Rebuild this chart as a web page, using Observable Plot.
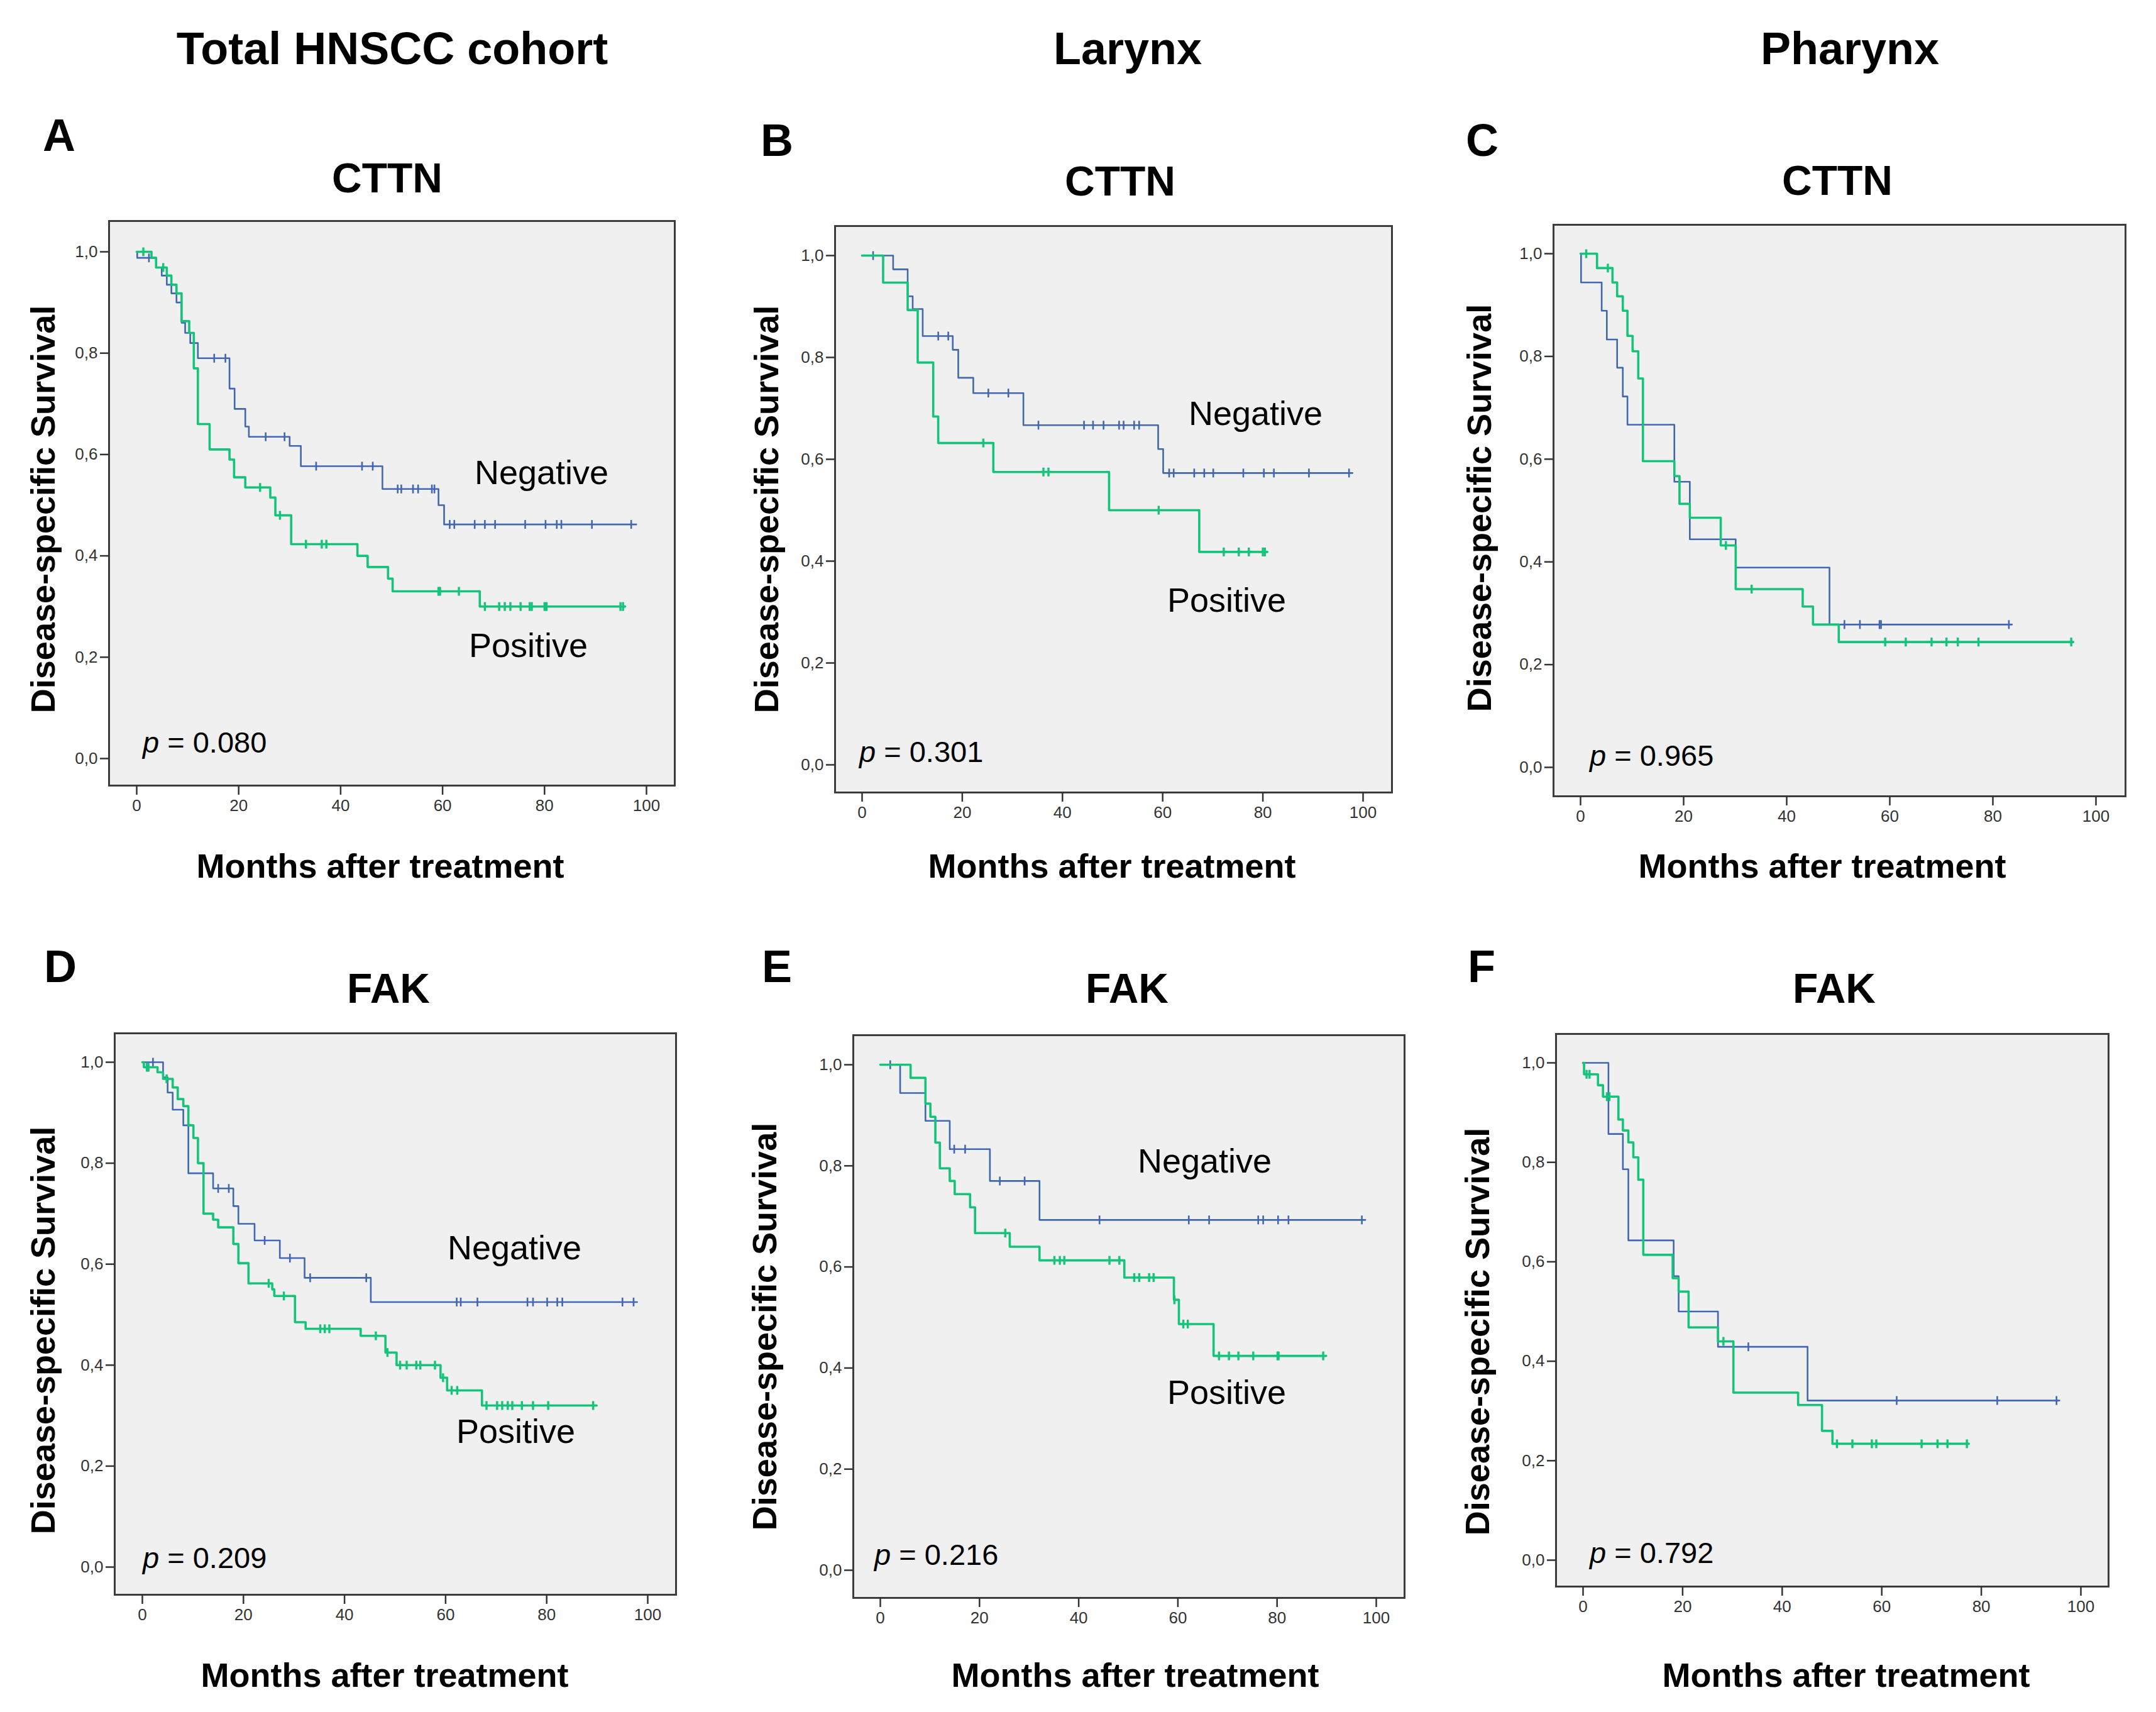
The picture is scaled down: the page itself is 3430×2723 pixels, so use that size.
<!DOCTYPE html>
<html>
<head>
<meta charset="utf-8">
<script src="https://cdn.jsdelivr.net/npm/d3@7"></script>
<script src="https://cdn.jsdelivr.net/npm/@observablehq/plot@0.6"></script>
<style>
  html, body { margin: 0; padding: 0; background: #ffffff; }
  #page { position: relative; width: 3430px; height: 2723px; background: #ffffff; overflow: hidden;
          font-family: "Liberation Sans", Arial, Helvetica, sans-serif; }
  .panel { position: absolute; }
  #overlay { position: absolute; left: 0; top: 0; pointer-events: none; }
</style>
</head>
<body>
<div id="page"></div>
<script>
// ---------------- DATA (Kaplan–Meier steps: [months, survival]) ----------------
const stepsA_neg = [[0,1],[0.1,0.988],[3.8,0.969],[4.9,0.953],[5.9,0.935],[6.8,0.918],[7.8,0.90],[8.8,0.86],[9.5,0.84],[10.5,0.82],[12,0.79],[18.2,0.73],[19.2,0.69],[21.3,0.655],[22,0.635],[30,0.617],[32.2,0.577],[48.2,0.532],[59.2,0.50],[60.3,0.462],[98,0.462]];
const censA_neg = [2.4,15.2,17.4,25.3,29,35.2,44.2,46.3,51.2,51.9,54.2,55.2,57.9,58.4,61.4,62.3,66.3,68.3,70.3,76.2,80.2,82.4,83.3,89.3,97.0];
const stepsA_pos = [[0,1],[2.9,0.988],[3.8,0.969],[5.9,0.953],[6.8,0.935],[7.8,0.918],[8.8,0.863],[10.3,0.84],[11.2,0.77],[12,0.66],[14.3,0.61],[18.2,0.59],[19.1,0.555],[21.3,0.535],[26.2,0.515],[27.2,0.48],[30.3,0.423],[43.3,0.40],[45.3,0.378],[49.3,0.355],[50.2,0.33],[67.3,0.30],[95.8,0.30]];
const censA_pos = [1.3,5.2,24.2,28.1,33.2,36.3,37.2,59.2,59.5,63.2,68.3,71.1,72.2,73.3,75.3,77.1,77.5,80,80.4,94.9,95.4];

const stepsB_neg = [[0,1],[6.2,0.973],[9.1,0.92],[10.1,0.895],[12.1,0.842],[18.1,0.815],[19.2,0.76],[22.2,0.73],[32.2,0.667],[59.1,0.62],[60.1,0.573],[97.9,0.573]];
const censB_neg = [2.2,15.2,17.2,25.2,29.2,35.2,44.3,46.1,48.2,51.3,52.2,54.3,55.3,61.3,62.2,66.3,68.3,70.1,76.1,80.2,82.2,89.2,97.2];
const stepsB_pos = [[0,1],[4.2,0.947],[9.1,0.893],[11.1,0.79],[14.2,0.684],[15.2,0.632],[26.2,0.575],[49.3,0.50],[67.3,0.418],[80.9,0.418]];
const censB_pos = [24.2,36.2,37.2,59.2,72.2,75.2,77.2,80,80.4];

const stepsC_neg = [[0,1],[0.1,0.944],[4.1,0.889],[5.1,0.833],[7.1,0.778],[8.2,0.722],[9.1,0.667],[18.2,0.556],[21.2,0.444],[30.1,0.389],[48.3,0.278],[83.7,0.278]];
const censC_neg = [51.2,54.2,58,58.3,83.1];
const stepsC_pos = [[0,1],[3.2,0.972],[6.2,0.944],[7.1,0.917],[8.2,0.889],[9.1,0.84],[10.1,0.81],[11.2,0.757],[12.1,0.596],[18.2,0.567],[19.2,0.513],[21.2,0.486],[27.2,0.432],[30.1,0.347],[43.1,0.313],[45.1,0.278],[50.1,0.244],[95.6,0.244]];
const censC_pos = [1.1,5.3,28.2,33.2,59.1,63.1,68.1,71,73.2,77.2,95.2];

const stepsD_neg = [[0,1],[4.1,0.97],[5,0.94],[6,0.906],[8.1,0.875],[9.1,0.78],[14,0.75],[18,0.715],[19,0.68],[22.2,0.647],[27.2,0.612],[32.1,0.573],[45.2,0.525],[97.9,0.525]];
const censD_neg = [2.1,15,17.1,24.2,29.2,33.2,44.3,62.2,63,66.3,76.2,77.3,80.1,82.1,83.1,95,97.2];
const stepsD_pos = [[0,1],[0.3,0.99],[3,0.98],[4.1,0.967],[6,0.95],[7,0.927],[8.1,0.913],[9.1,0.875],[10.1,0.85],[11,0.80],[12.1,0.70],[14,0.688],[15,0.673],[18,0.64],[19,0.602],[21,0.562],[25.7,0.55],[26.1,0.537],[30.2,0.485],[32.3,0.472],[43.2,0.458],[48.1,0.425],[50.3,0.40],[59,0.375],[60.3,0.35],[67.2,0.32],[89.9,0.32]];
const censD_pos = [0.9,1.2,4.8,25,28,35.2,36.1,37,46.2,48.5,51,52.3,54.2,55,57.9,59.5,61.2,62.3,68.1,70.2,71.2,72.3,73.2,75.1,77.3,80.3,89.2];

const stepsE_neg = [[0,1],[4,0.944],[9.1,0.889],[14,0.833],[22.1,0.77],[32.1,0.693],[97.8,0.693]];
const censE_neg = [2,14.9,17.1,24.1,29.1,44.2,62.2,66.3,76.2,77.2,80.2,82.3,97.1];
const stepsE_pos = [[0,1],[6.1,0.974],[9.1,0.923],[10.1,0.897],[11.1,0.846],[12,0.795],[14,0.77],[15,0.744],[18.1,0.718],[19.1,0.667],[26.1,0.64],[32.1,0.613],[49.2,0.579],[59.2,0.535],[60.2,0.487],[67.2,0.424],[89.9,0.424]];
const censE_pos = [25.2,35.1,36.2,37.1,46.2,48.2,51.2,52.2,54.2,55.1,59.3,61.1,62,68.3,70.3,72.2,75.2,80.1,80.3,89.3];

const stepsF_neg = [[0,1],[5.1,0.857],[8,0.786],[9.1,0.643],[18.2,0.571],[19.2,0.50],[27.1,0.429],[45.1,0.321],[95.7,0.321]];
const censF_neg = [33.2,63,83.2,95.1];
const stepsF_pos = [[0,1],[0.2,0.977],[3,0.955],[4,0.932],[7.1,0.886],[8,0.864],[9.1,0.84],[10.1,0.81],[11.1,0.765],[12.1,0.614],[18,0.567],[19.2,0.54],[21.2,0.468],[27.1,0.44],[30.2,0.337],[43.2,0.312],[48,0.26],[50.1,0.234],[77.5,0.234]];
const censF_pos = [0.7,1.3,4.8,5.3,28.2,51,54.1,58,58.9,68,71.2,73.2,77.1];

const pValues = ["0.080", "0.301", "0.965", "0.209", "0.216", "0.792"];
const panelLetters = ["A", "B", "C", "D", "E", "F"];
const markerNames = ["CTTN", "CTTN", "CTTN", "FAK", "FAK", "FAK"];
const columnHeaders = ["Total HNSCC cohort", "Larynx", "Pharynx"];
const xTicks = [0, 20, 40, 60, 80, 100];
const yTicks = [0, 0.2, 0.4, 0.6, 0.8, 1.0];
const groupLabels = ["Negative", "Positive"];
const yTitle = "Disease-specific Survival";
const xTitle = "Months after treatment";

// ---------------- LAYOUT (page pixels) ----------------
const BLUE = "#4166b2", GREEN = "#14c479";
const FONT = "'Liberation Sans', Arial, Helvetica, sans-serif";
const layout = [
  {L:173, R:1073, T:351, B:1249, x0:217, x100:1028, y1:400, y0:1206},
  {L:1328, R:2214, T:359, B:1260, x0:1371, x100:2168, y1:406, y0:1216},
  {L:2471, R:3381, T:357, B:1266, x0:2514, x100:3334, y1:403, y0:1220},
  {L:182, R:1075, T:1643, B:2536, x0:226, x100:1030, y1:1689, y0:2492},
  {L:1357, R:2234, T:1646, B:2541, x0:1400, x100:2189, y1:1693, y0:2497},
  {L:2475, R:3354, T:1644, B:2523, x0:2518, x100:3310, y1:1690, y0:2481}
];
const textLayout = [
  {letter:[68,240], title:[616,306], ylab:[87,810], xlab:[605,1396], neg:[755,770], pos:[746,1045], p:[227,1197]},
  {letter:[1210,248], title:[1782,311], ylab:[1238,810], xlab:[1769,1396], neg:[1891,676], pos:[1857,973], p:[1367,1212]},
  {letter:[2332,248], title:[2923,310], ylab:[2372,808], xlab:[2899,1396], neg:null, pos:null, p:[2529,1218]},
  {letter:[70,1562], title:[618,1595], ylab:[87,2116], xlab:[612,2683], neg:[712,2003], pos:[726,2295], p:[227,2494]},
  {letter:[1212,1562], title:[1793,1595], ylab:[1235,2110], xlab:[1806,2683], neg:[1810,1865], pos:[1857,2233], p:[1391,2489]},
  {letter:[2335,1562], title:[2918,1595], ylab:[2369,2118], xlab:[2937,2683], neg:null, pos:null, p:[2529,2486]}
];
const headerLayout = [[624,102],[1794,102],[2943,102]];

const series = [
  [stepsA_neg, censA_neg, stepsA_pos, censA_pos],
  [stepsB_neg, censB_neg, stepsB_pos, censB_pos],
  [stepsC_neg, censC_neg, stepsC_pos, censC_pos],
  [stepsD_neg, censD_neg, stepsD_pos, censD_pos],
  [stepsE_neg, censE_neg, stepsE_pos, censE_pos],
  [stepsF_neg, censF_neg, stepsF_pos, censF_pos]
];

// vertical censor tick symbol
const vbar = { draw(ctx, size) { const h = Math.sqrt(size / Math.PI); ctx.moveTo(0, -h); ctx.lineTo(0, h); } };

function toRows(steps) { return steps.map(([t, s]) => ({t, s})); }
function censRows(steps, cens) {
  return cens.map(c => {
    let s = steps[0][1];
    for (const [t, v] of steps) { if (t <= c) s = v; }
    return {t: c, s};
  });
}

const page = document.getElementById("page");
const mL = 80, mR = 6, mT = 6, mB = 60;

layout.forEach((g, i) => {
  const [negS, negC, posS, posC] = series[i];
  const xs = (g.x100 - g.x0) / 100;
  const ys = (g.y0 - g.y1);
  const xDomain = [-(g.x0 - g.L) / xs, 100 + (g.R - g.x100) / xs];
  const yDomain = [-(g.B - g.y0) / ys, 1 + (g.y1 - g.T) / ys];
  const width = (g.R - g.L) + mL + mR;
  const height = (g.B - g.T) + mT + mB;
  const chart = Plot.plot({
    width, height,
    marginLeft: mL, marginRight: mR, marginTop: mT, marginBottom: mB,
    x: {domain: xDomain, axis: null},
    y: {domain: yDomain, axis: null},
    style: {background: "transparent", fontFamily: FONT, overflow: "visible"},
    marks: [
      Plot.frame({fill: "#f0f0f0", stroke: null}),
      Plot.line(toRows(negS), {x: "t", y: "s", curve: "step-after", stroke: BLUE, strokeWidth: 2.6}),
      Plot.dot(censRows(negS, negC), {x: "t", y: "s", symbol: vbar, r: 7, fill: "none", stroke: BLUE, strokeWidth: 2.6}),
      Plot.line(toRows(posS), {x: "t", y: "s", curve: "step-after", stroke: GREEN, strokeWidth: 3.6}),
      Plot.dot(censRows(posS, posC), {x: "t", y: "s", symbol: vbar, r: 7, fill: "none", stroke: GREEN, strokeWidth: 3.4}),
      Plot.frame({stroke: "#3c3c3c", strokeWidth: 3}),
      Plot.axisX({ticks: xTicks, tickSize: 15, tickPadding: 7, fontSize: 26, color: "#333", stroke: "#333", strokeWidth: 2.5, label: null, tickFormat: d => String(d)}),
      Plot.axisY({ticks: yTicks, tickSize: 14, tickPadding: 4, fontSize: 26, color: "#333", stroke: "#333", strokeWidth: 2.5, label: null, tickFormat: d => d.toFixed(1).replace(".", ",")})
    ]
  });
  const wrap = document.createElement("div");
  wrap.className = "panel";
  wrap.style.left = (g.L - mL) + "px";
  wrap.style.top = (g.T - mT) + "px";
  wrap.appendChild(chart);
  page.appendChild(wrap);
});

// ---------------- TEXT OVERLAY ----------------
const svg = d3.select(page).append("svg").attr("id", "overlay")
  .attr("width", 3430).attr("height", 2723)
  .attr("font-family", FONT).attr("fill", "#000");

columnHeaders.forEach((h, i) => {
  svg.append("text").attr("x", headerLayout[i][0]).attr("y", headerLayout[i][1])
    .attr("text-anchor", "middle").attr("font-weight", "bold").attr("font-size", 72).text(h);
});

textLayout.forEach((t, i) => {
  svg.append("text").attr("x", t.letter[0]).attr("y", t.letter[1])
    .attr("font-weight", "bold").attr("font-size", 72).text(panelLetters[i]);
  svg.append("text").attr("x", t.title[0]).attr("y", t.title[1])
    .attr("text-anchor", "middle").attr("font-weight", "bold").attr("font-size", 66).text(markerNames[i]);
  svg.append("text").attr("transform", `translate(${t.ylab[0]},${t.ylab[1]}) rotate(-90)`)
    .attr("text-anchor", "middle").attr("font-weight", "bold").attr("font-size", 54).text(yTitle);
  svg.append("text").attr("x", t.xlab[0]).attr("y", t.xlab[1])
    .attr("text-anchor", "middle").attr("font-weight", "bold").attr("font-size", 54).text(xTitle);
  if (t.neg) svg.append("text").attr("x", t.neg[0]).attr("y", t.neg[1]).attr("font-size", 54).text(groupLabels[0]);
  if (t.pos) svg.append("text").attr("x", t.pos[0]).attr("y", t.pos[1]).attr("font-size", 54).text(groupLabels[1]);
  const pt = svg.append("text").attr("x", t.p[0]).attr("y", t.p[1]).attr("font-size", 47);
  pt.append("tspan").attr("font-style", "italic").text("p");
  pt.append("tspan").text(" = " + pValues[i]);
});
</script>
</body>
</html>
